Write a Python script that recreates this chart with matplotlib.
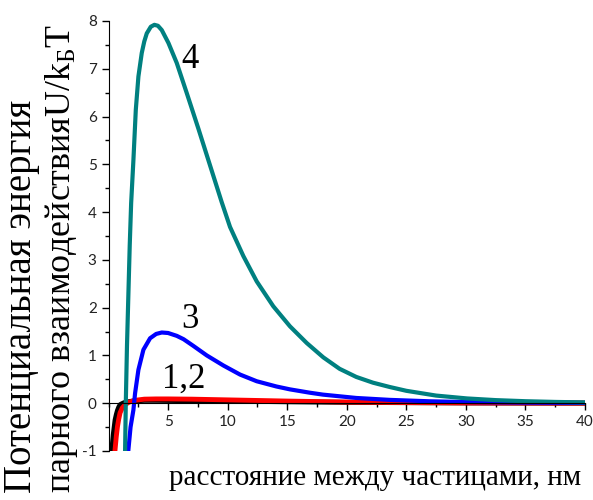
import matplotlib
matplotlib.use('Agg')
import matplotlib.pyplot as plt
from matplotlib.ticker import MultipleLocator

plt.rcParams['mathtext.fontset'] = 'custom'
plt.rcParams['mathtext.rm'] = 'Liberation Serif'
plt.rcParams['mathtext.it'] = 'Liberation Serif:italic'
plt.rcParams['axes.unicode_minus'] = False

# curve 4 (teal)
x4 = [1.39, 1.45, 1.55, 1.67, 1.78, 1.90, 2.09, 2.29, 2.51, 2.79, 3.0, 3.21, 3.55, 3.85,
      4.15, 4.47, 5.03, 5.73, 6.57, 7.54, 8.52, 9.5, 10.2, 11.32, 12.44, 13.83,
      15.23, 16.64, 18.03, 19.4, 20.8, 22.2, 23.6, 25.0, 27.5, 30.1, 32.5, 35.0,
      37.5, 40.0]
y4 = [-1.0, 0.0, 1.2, 2.3, 3.3, 4.19, 5.09, 6.14, 6.84, 7.33, 7.57, 7.74, 7.88, 7.92,
      7.90, 7.81, 7.54, 7.12, 6.49, 5.75, 4.98, 4.21, 3.69, 3.08, 2.55, 2.03,
      1.61, 1.26, 0.96, 0.72, 0.55, 0.43, 0.34, 0.26, 0.16, 0.10, 0.065, 0.042,
      0.027, 0.017]
# curve 3 (blue)
x3 = [1.67, 1.85, 2.09, 2.23, 2.51, 2.93, 3.49, 4.0, 4.47, 5.0, 5.73, 6.3, 7.12, 8.25,
      9.64, 11.04, 12.44, 14.1, 15.23, 16.9, 18.0, 20.8, 23.6, 27.0, 30.0, 35.0, 40.0]
y3 = [-0.97, -0.5, -0.14, 0.21, 0.70, 1.12, 1.36, 1.45, 1.48, 1.47, 1.41, 1.34, 1.20, 1.0,
      0.79, 0.60, 0.46, 0.35, 0.29, 0.22, 0.18, 0.11, 0.07, 0.04, 0.025, 0.012, 0.006]
# curve 2 (red)
x2 = [0.55, 0.65, 0.75, 0.86, 0.97, 1.15, 1.39, 1.7, 2.2, 3.0, 4.0, 5.0, 7.0, 10.0,
      15.0, 20.0, 25.0, 30.0, 40.0]
y2 = [-0.97, -0.7, -0.49, -0.33, -0.2, -0.1, -0.03, 0.02, 0.06, 0.085, 0.09, 0.09,
      0.085, 0.07, 0.045, 0.025, 0.013, 0.007, 0.002]
# curve 1 (black)
x1 = [0.28, 0.4, 0.55, 0.65, 0.75, 0.86, 0.97, 1.2, 1.4, 2.0, 3.0, 4.0, 6.0, 10.0,
      15.0, 20.0, 30.0, 40.0]
y1 = [-0.97, -0.65, -0.35, -0.24, -0.15, -0.08, -0.03, 0.0, 0.02, 0.045, 0.06, 0.06,
      0.055, 0.045, 0.03, 0.018, 0.005, 0.001]

fig = plt.figure(figsize=(5.93, 5.0), dpi=100)
ax = fig.add_axes([0.183, 0.098, 0.8035, 0.86])

ax.plot(x1, y1, color='black', lw=3.5)
ax.plot(x2, y2, color='#ff0000', lw=3.5)
ax.plot(x3, y3, color='#0000ff', lw=3)
ax.plot(x4, y4, color='#008080', lw=3)

ax.set_xlim(0, 40)
ax.set_ylim(-1, 8)
ax.spines['top'].set_visible(False)
ax.spines['right'].set_visible(False)
ax.spines['bottom'].set_position(('data', 0))
ax.set_xticks([5, 10, 15, 20, 25, 30, 35, 40])
ax.xaxis.set_minor_locator(MultipleLocator(2.5))
ax.yaxis.set_major_locator(MultipleLocator(1))
ax.yaxis.set_minor_locator(MultipleLocator(0.5))
ax.tick_params(which='major', length=5, width=1, direction='out', labelsize=11)
ax.tick_params(which='minor', length=3, width=1, direction='out')
for lab in ax.get_xticklabels() + ax.get_yticklabels():
    lab.set_family('Lato')
    lab.set_color('#222222')

serif = 'Liberation Serif'
ax.text(6.85, 7.2, '4', fontsize=25, family=serif, ha='center', va='center')
ax.text(6.85, 1.75, '3', fontsize=25, family=serif, ha='center', va='center')
ax.text(6.3, 0.5, '1,2', fontsize=25, family=serif, ha='center', va='center')

fig.text(0.632, 0.044, 'расстояние между частицами, нм', fontsize=21,
         family=serif, ha='center', va='center')
fig.text(0.036, 0.014, 'Потенциальная энергия', fontsize=28, family=serif,
         rotation=90, rotation_mode='anchor', ha='left', va='center')
fig.text(0.103, 0.014, 'парного взаимодействияU/k$_{\\mathrm{Б}}$T', fontsize=25.8,
         family=serif, rotation=90, rotation_mode='anchor', ha='left', va='center')

fig.savefig('out.png', dpi=100)
